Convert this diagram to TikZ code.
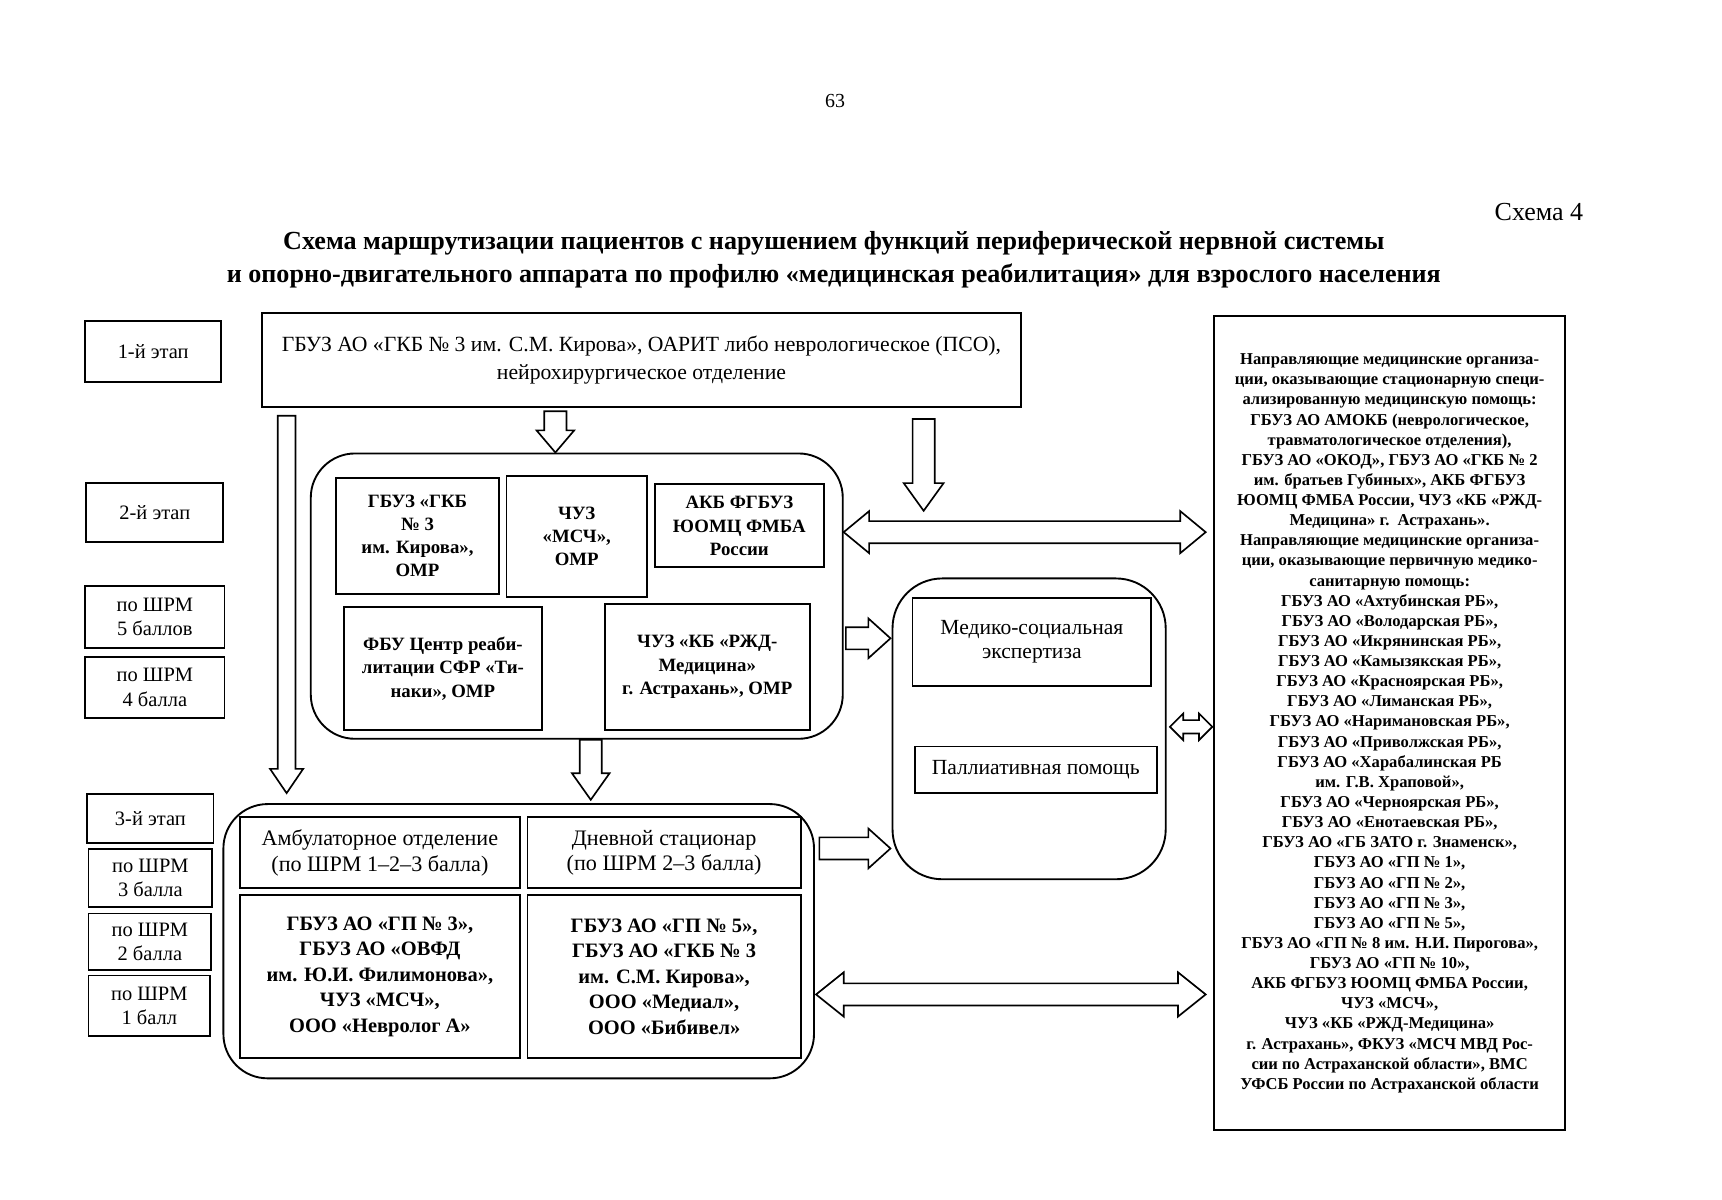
\documentclass[tikz,border=0pt]{standalone}
\usepackage{fontspec}
\setmainfont{Liberation Serif}
\usetikzlibrary{calc}
\newcommand\mkbox[7]{\node[#1, minimum width={(#5-#3)*1pt}, minimum height={(#6-#4)*1pt}] (#2) at ({(#3+#5)/2},{(#4+#6)/2}) {#7};}
\newcommand\sarrow[5]{%
 \coordinate (tmpH) at ($(#2)!#5!(#1)$);
 \draw[blk] ($(#1)!#3!90:(#2)$) -- ($(tmpH)!#3!-90:(#1)$) -- ($(tmpH)!#4!-90:(#1)$) -- (#2) -- ($(tmpH)!#4!90:(#1)$) -- ($(tmpH)!#3!90:(#1)$) -- ($(#1)!#3!-90:(#2)$) -- cycle;}
\newcommand\darrow[5]{%
 \coordinate (tmpA) at ($(#1)!#5!(#2)$);
 \coordinate (tmpB) at ($(#2)!#5!(#1)$);
 \draw[blk] (#1) -- ($(tmpA)!#4!90:(#2)$) -- ($(tmpA)!#3!90:(#2)$) -- ($(tmpB)!#3!-90:(#1)$) -- ($(tmpB)!#4!-90:(#1)$) -- (#2) -- ($(tmpB)!#4!90:(#1)$) -- ($(tmpB)!#3!90:(#1)$) -- ($(tmpA)!#3!-90:(#2)$) -- ($(tmpA)!#4!-90:(#2)$) -- cycle;}
\begin{document}
\begin{tikzpicture}[x=1pt,y=-1pt,
  box/.style={draw, line width=1.7pt, inner sep=0pt, align=center},
  rbox/.style={box, rounded corners=40pt},
  reg/.style={font=\fontsize{18.5}{22}\selectfont},
  bld/.style={font=\bfseries\fontsize{17}{21}\selectfont},
  blk/.style={draw, line width=1.5pt, fill=white, line join=miter}]
\fill[white] (0,0) rectangle (1557,1085);
\useasboundingbox (0,0) rectangle (1557,1085);
% header texts
\node[font=\fontsize{18}{22}\selectfont] (pnum) at (755,91) {63};
\node[font=\fontsize{23.5}{26}\selectfont, anchor=east] (schema) at (1435,192) {Схема 4};
\node[font=\bfseries\fontsize{23.6}{30}\selectfont, align=center] (title) at (754,235) {Схема маршрутизации пациентов с нарушением функций периферической нервной системы\\ и опорно-двигательного аппарата по профилю «медицинская реабилитация» для взрослого населения};
% left column
\mkbox{box,reg}{s1}{77}{290}{200}{345}{1-й этап}
\mkbox{box,reg}{s2}{78}{437}{202}{490}{2-й этап}
\mkbox{box,reg}{s5}{77}{530}{203}{586}{по ШРМ\\ 5 баллов}
\mkbox{box,reg}{s4}{77}{594}{203}{649}{по ШРМ\\ 4 балла}
\mkbox{box,reg}{s3}{79}{718}{193}{762}{3-й этап}
\mkbox{box,reg}{p3}{80}{768}{192}{820}{по ШРМ\\ 3 балла}
\mkbox{box,reg}{p2}{80}{826}{191}{877}{по ШРМ\\ 2 балла}
\mkbox{box,reg}{p1}{80}{882}{190}{937}{по ШРМ\\ 1 балл}
% top box
\mkbox{box,font=\fontsize{19.6}{26}\selectfont}{top}{237}{283}{923}{368}{ГБУЗ АО «ГКБ № 3 им. С.М. Кирова», ОАРИТ либо неврологическое (ПСО),\\ нейрохирургическое отделение}
% stage 2
\mkbox{rbox}{st2}{281}{410}{762}{668}{}
\mkbox{box,bld}{b1}{304}{432}{451}{537}{ГБУЗ «ГКБ\\ № 3\\ им. Кирова»,\\ ОМР}
\mkbox{box,bld}{b2}{458}{430}{585}{540}{ЧУЗ\\ «МСЧ»,\\ ОМР}
\mkbox{box,bld}{b3}{592}{438}{745}{513}{АКБ ФГБУЗ\\ ЮОМЦ ФМБА\\ России}
\mkbox{box,bld}{b4}{311}{549}{490}{660}{ФБУ Центр реаби-\\ литации СФР «Ти-\\ наки», ОМР}
\mkbox{box,bld}{b5}{547}{546}{732}{660}{ЧУЗ «КБ «РЖД-\\ Медицина»\\ г. Астрахань», ОМР}
% stage 3
\mkbox{rbox}{st3}{202}{727}{736}{975}{}
\mkbox{box,font=\fontsize{20}{23}\selectfont}{b6}{217}{739}{470}{803}{Амбулаторное отделение\\ (по ШРМ 1–2–3 балла)}
\mkbox{box,font=\fontsize{20}{23}\selectfont}{b7}{477}{739}{724}{803}{Дневной стационар\\ (по ШРМ 2–3 балла)}
\mkbox{box,font=\bfseries\fontsize{18.5}{23}\selectfont}{b8}{217}{809}{470}{957}{ГБУЗ АО «ГП № 3»,\\ ГБУЗ АО «ОВФД\\ им. Ю.И. Филимонова»,\\ ЧУЗ «МСЧ»,\\ ООО «Невролог А»}
\mkbox{box,font=\bfseries\fontsize{18.5}{23}\selectfont}{b9}{477}{809}{724}{957}{ГБУЗ АО «ГП № 5»,\\ ГБУЗ АО «ГКБ № 3\\ им. С.М. Кирова»,\\ ООО «Медиал»,\\ ООО «Бибивел»}
% MSE
\mkbox{box, rounded corners=45pt}{mse}{807}{523}{1054}{795}{}
\mkbox{box,font=\fontsize{19.5}{22}\selectfont}{b10}{825}{541}{1041}{620}{Медико-социальная\\ экспертиза}
\mkbox{box,font=\fontsize{19.5}{22}\selectfont}{b11}{827}{675}{1046}{717}{Паллиативная помощь}
% right box
\mkbox{box,font=\bfseries\fontsize{15}{18.2}\selectfont}{rb}{1098}{286}{1415}{1022}{Направляющие медицинские организа-\\ ции, оказывающие стационарную специ-\\ ализированную медицинскую помощь:\\ ГБУЗ АО АМОКБ (неврологическое,\\ травматологическое отделения),\\ ГБУЗ АО «ОКОД», ГБУЗ АО «ГКБ № 2\\ им. братьев Губиных», АКБ ФГБУЗ\\ ЮОМЦ ФМБА России, ЧУЗ «КБ «РЖД-\\ Медицина» г.~~Астрахань».\\ Направляющие медицинские организа-\\ ции, оказывающие первичную медико-\\ санитарную помощь:\\ ГБУЗ АО «Ахтубинская РБ»,\\ ГБУЗ АО «Володарская РБ»,\\ ГБУЗ АО «Икрянинская РБ»,\\ ГБУЗ АО «Камызякская РБ»,\\ ГБУЗ АО «Красноярская РБ»,\\ ГБУЗ АО «Лиманская РБ»,\\ ГБУЗ АО «Наримановская РБ»,\\ ГБУЗ АО «Приволжская РБ»,\\ ГБУЗ АО «Харабалинская РБ\\ им. Г.В. Храповой»,\\ ГБУЗ АО «Черноярская РБ»,\\ ГБУЗ АО «Енотаевская РБ»,\\ ГБУЗ АО «ГБ ЗАТО г. Знаменск»,\\ ГБУЗ АО «ГП № 1»,\\ ГБУЗ АО «ГП № 2»,\\ ГБУЗ АО «ГП № 3»,\\ ГБУЗ АО «ГП № 5»,\\ ГБУЗ АО «ГП № 8 им. Н.И. Пирогова»,\\ ГБУЗ АО «ГП № 10»,\\ АКБ ФГБУЗ ЮОМЦ ФМБА России,\\ ЧУЗ «МСЧ»,\\ ЧУЗ «КБ «РЖД-Медицина»\\ г. Астрахань», ФКУЗ «МСЧ МВД Рос-\\ сии по Астраханской области», ВМС\\ УФСБ России по Астраханской области}
% arrow end points
\coordinate (a1s) at ($(top.south west)+(23,7)$);
\coordinate (a1e) at ($(st3.north west)+(58,-9)$);
\coordinate (a2s) at ($(top.south west)+(266,3)$);
\coordinate (a2e) at ($(st2.north west)+(222,0)$);
\coordinate (a3s) at ($(top.south west)+(599,10)$);
\coordinate (a3e) at ($(top.south west)+(599,93)$);
\coordinate (a4s) at ($(st2.south west)+(254,0)$);
\coordinate (a4e) at ($(st3.north west)+(333,-3)$);
\coordinate (a5s) at ($(st2.north east)+(0,72)$);
\coordinate (a5e) at ($(rb.north west)+(-7,196)$);
\coordinate (a6s) at ($(st2.north east)+(2,168)$);
\coordinate (a6e) at ($(mse.north west)+(-1,55)$);
\coordinate (a7s) at ($(st3.north east)+(4,41)$);
\coordinate (a7e) at ($(mse.north west)+(-1,245)$);
\coordinate (a8s) at ($(mse.north east)+(3,135)$);
\coordinate (a8e) at ($(rb.north west)+(-1,372)$);
\coordinate (a9s) at ($(st3.north east)+(1,173)$);
\coordinate (a9e) at ($(rb.north west)+(-7,614)$);
% arrows
\sarrow{a1s}{a1e}{8pt}{15pt}{22pt}
\sarrow{a2s}{a2e}{10pt}{17pt}{20pt}
\sarrow{a3s}{a3e}{10pt}{18pt}{25pt}
\sarrow{a4s}{a4e}{10pt}{17pt}{24pt}
\darrow{a5s}{a5e}{10pt}{19pt}{23pt}
\sarrow{a6s}{a6e}{10pt}{18pt}{20pt}
\sarrow{a7s}{a7e}{10pt}{18pt}{20pt}
\darrow{a8s}{a8e}{6pt}{12pt}{12pt}
\darrow{a9s}{a9e}{10pt}{20pt}{25pt}
\end{tikzpicture}
\end{document}
